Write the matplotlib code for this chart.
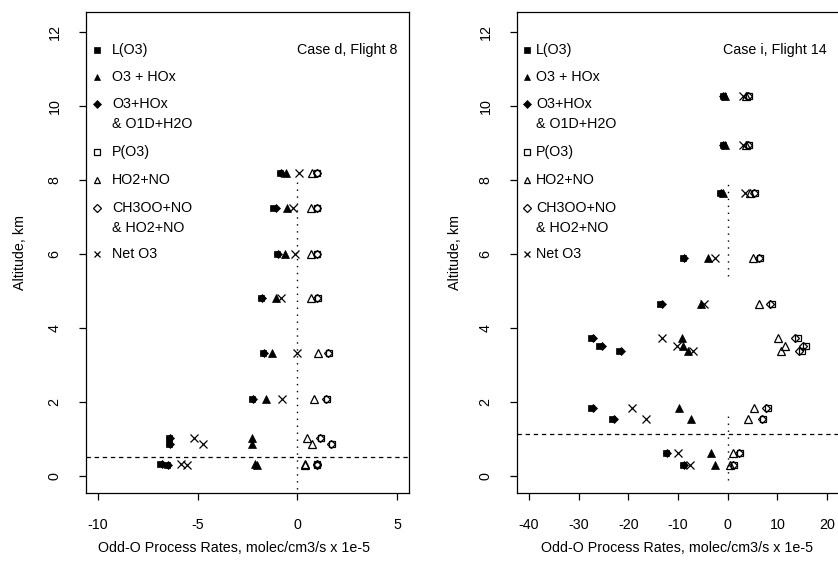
import matplotlib
matplotlib.use("Agg")
import matplotlib.pyplot as plt

plt.rcParams['font.family'] = ['Liberation Sans', 'DejaVu Sans']

# ---------------- data: Case d, Flight 8 ----------------
alt_d      = [8.20, 7.24, 6.00, 4.80, 3.33, 2.09, 1.03, 0.87, 0.33, 0.31]
L_d        = [-0.85, -1.20, -1.00, -1.80, -1.70, -2.25, -6.45, -6.45, -6.90, -6.55]
O3HOx_d    = [-0.55, -0.50, -0.60, -1.05, -1.25, -1.55, -2.25, -2.25, -2.10, -2.00]
O3HOxO1D_d = [-0.80, -1.05, -0.95, -1.75, -1.65, -2.20, -6.40, -6.40, -6.80, -6.50]
P_d        = [1.00, 1.00, 1.00, 1.05, 1.60, 1.50, 1.20, 1.75, 1.00, 1.00]
HO2NO_d    = [0.75, 0.70, 0.70, 0.70, 1.05, 0.85, 0.50, 0.75, 0.40, 0.40]
CH3OO_d    = [0.97, 0.97, 0.97, 1.00, 1.55, 1.45, 1.15, 1.70, 0.97, 0.97]
net_d      = [0.10, -0.20, -0.10, -0.80, 0.00, -0.75, -5.20, -4.75, -5.85, -5.55]
bl_d = 0.51               # dashed boundary-layer altitude
zero_d = [[-0.35, 8.05]]  # extents of the dotted zero line

# ---------------- data: Case i, Flight 14 ----------------
alt_i      = [10.27, 8.95, 7.65, 5.88, 4.66, 3.74, 3.50, 3.38, 1.84, 1.54, 0.62, 0.30]
L_i        = [-0.9, -0.9, -1.5, -9.0, -13.6, -27.6, -25.8, -21.8, -27.6, -23.2, -12.4, -9.0]
O3HOx_i    = [-0.6, -0.6, -1.0, -4.0, -5.3, -9.1, -9.0, -8.0, -9.8, -7.4, -3.4, -2.6]
O3HOxO1D_i = [-0.85, -0.85, -1.4, -8.8, -13.3, -27.1, -25.3, -21.4, -27.2, -22.8, -12.2, -8.8]
P_i        = [4.2, 4.2, 5.4, 6.6, 9.0, 14.2, 15.8, 15.0, 8.2, 7.2, 2.4, 1.2]
HO2NO_i    = [3.6, 3.6, 4.4, 5.0, 6.4, 10.2, 11.6, 10.8, 5.2, 4.0, 1.0, 0.4]
CH3OO_i    = [4.0, 4.0, 5.2, 6.3, 8.6, 13.6, 15.2, 14.4, 7.8, 6.9, 2.3, 1.1]
net_i      = [3.1, 3.1, 3.4, -2.6, -4.8, -13.2, -10.2, -7.0, -19.2, -16.4, -10.0, -7.6]
bl_i = 1.13
zero_i = [[5.4, 8.0], [-0.1, 1.65]]

xticks_d = [-10, -5, 0, 5]
xticks_i = [-40, -30, -20, -10, 0, 10, 20]
yticks = [0, 2, 4, 6, 8, 10, 12]

legend_labels = ["L(O3)", "O3 + HOx", "O3+HOx\n& O1D+H2O", "P(O3)", "HO2+NO",
                 "CH3OO+NO\n& HO2+NO", "Net O3"]
xlabel = "Odd-O Process Rates, molec/cm3/s x 1e-5"
ylabel = "Altitude, km"

# ---------------- layout ----------------
W, H = 838, 567
fig = plt.figure(figsize=(W / 100, H / 100), dpi=100)
fig.patch.set_facecolor('white')

def axrect(x0, x1, y0, y1):
    return [x0 / W, 1 - y1 / H, (x1 - x0) / W, (y1 - y0) / H]

ax1 = fig.add_axes(axrect(86, 409, 12, 493))
ax2 = fig.add_axes(axrect(517, 840, 12, 493))

FS = 10.3
mew = 0.9
styles = [
    dict(marker='s', color='black', markersize=5.0, markeredgewidth=0.5),
    dict(marker='^', color='black', markersize=5.2, markeredgewidth=0.5),
    dict(marker='D', color='black', markersize=3.6, markeredgewidth=0.5),
    dict(marker='s', markerfacecolor='none', markeredgecolor='black', markersize=5.0, markeredgewidth=mew),
    dict(marker='^', markerfacecolor='none', markeredgecolor='black', markersize=5.2, markeredgewidth=mew),
    dict(marker='D', markerfacecolor='none', markeredgecolor='black', markersize=3.6, markeredgewidth=mew),
    dict(marker='x', color='black', markersize=5.5, markeredgewidth=mew),
]

def fx(px):
    return px / W

def fy(py):
    return 1 - py / H

def panel(ax, alt, series, bl, zeros, xlim, xticks, case_text, case_x_px, leg_px, ylab_px, xlab_px):
    for vals, st in zip(series, styles):
        ax.plot(vals, alt, linestyle='none', **st)
    ax.axhline(bl, color='black', lw=0.9, linestyle=(0, (3.5, 3.0)))
    for seg in zeros:
        ax.plot([0, 0], seg, color='black', lw=1.0, linestyle=(0, (1, 4)))
    ax.set_xlim(*xlim)
    ax.set_ylim(-0.46, 12.54)
    ax.set_xticks(xticks)
    ax.set_xticklabels([str(t) for t in xticks], fontsize=FS)
    ax.set_yticks(yticks)
    ax.set_yticklabels([str(t) for t in yticks], fontsize=FS, rotation=90, va='center')
    ax.tick_params(direction='out', length=5.2, width=0.9, pad=12.5)
    for s in ax.spines.values():
        s.set_linewidth(0.9)
    x0 = ax.get_position().x0 * W
    wpx = ax.get_position().width * W
    ax.set_ylabel(ylabel, fontsize=FS, va='center')
    ax.yaxis.set_label_coords((ylab_px - x0) / wpx, 0.5)
    fig.text(fx(xlab_px), fy(548), xlabel, fontsize=FS, ha='center', va='center')
    fig.text(fx(case_x_px), fy(50), case_text, fontsize=FS, ha='right', va='center')
    # legend (manual, R-style: no frame)
    mx, tx = leg_px
    ys = [50, 77, 104, 152, 180, 208, 254]
    for lab, st, yy in zip(legend_labels, styles, ys):
        st2 = dict(st)
        if st2['marker'] in ('s', '^', 'x'):
            st2['markersize'] = st2['markersize'] * 0.85
        fig.add_artist(plt.Line2D([fx(mx)], [fy(yy)], transform=fig.transFigure,
                                  linestyle='none', **st2))
        for k, line in enumerate(lab.split('\n')):
            fig.text(fx(tx), fy(yy + 20 * k), line, fontsize=FS, ha='left', va='center')

panel(ax1, alt_d, [L_d, O3HOx_d, O3HOxO1D_d, P_d, HO2NO_d, CH3OO_d, net_d], bl_d, zero_d,
      (-10.6, 5.6), xticks_d, "Case d, Flight 8", 397, (97, 112), 20, 234)
panel(ax2, alt_i, [L_i, O3HOx_i, O3HOxO1D_i, P_i, HO2NO_i, CH3OO_i, net_i], bl_i, zero_i,
      (-42.4, 22.6), xticks_i, "Case i, Flight 14", 827, (527, 536), 455, 677)

fig.savefig("out.png", dpi=100)
